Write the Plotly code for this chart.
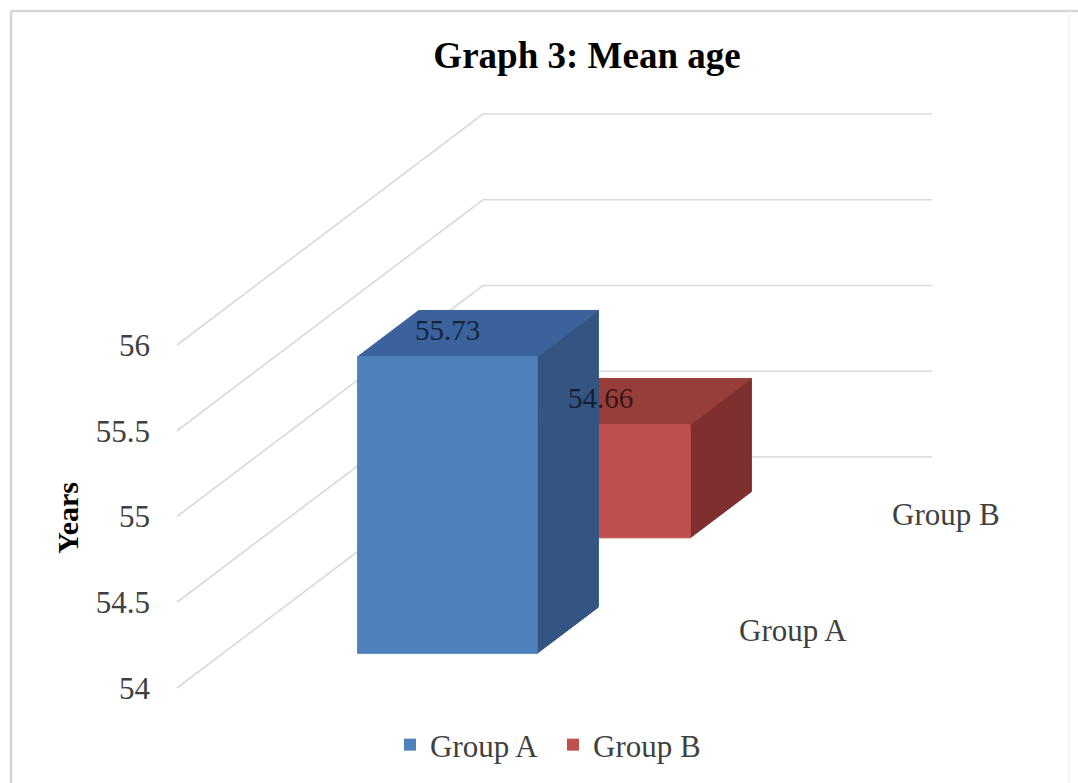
import plotly.graph_objects as go

# ---- data -------------------------------------------------------------
groups = ["Group A", "Group B"]
mean_age = [55.73, 54.66]
front_colors = ["#4f81bd", "#c0504d"]
top_colors = ["#3b629c", "#973d3a"]
side_colors = ["#345582", "#7e2f2e"]

y_ticks = [54, 54.5, 55, 55.5, 56]
y_tick_text = ["54", "54.5", "55", "55.5", "56"]
axis_min = 54

# ---- oblique 3-D geometry (screen pixels) -----------------------------
W, H = 1078, 783
ORIGIN_X = 177        # front-left corner of the floor
ORIGIN_Y = 688        # pixel row of axis_min on the front plane
PX_PER_UNIT = 171.5   # vertical pixels per year
FLOOR_W = 449         # width of the floor along the category axis
SLOT_DX = 153         # horizontal shift per series slot (depth)
SLOT_DY = 115.5       # vertical shift per series slot (depth)
BAR_FRAC = 0.4        # bar width/depth share of a slot (gap 150%)

y_lo = axis_min - (H - ORIGIN_Y) / PX_PER_UNIT
y_hi = axis_min + ORIGIN_Y / PX_PER_UNIT


def proj(u, v, d):
    """Map (category fraction, value, depth slot) to (x pixel, y value)."""
    return ORIGIN_X + u * FLOOR_W + d * SLOT_DX, v + d * SLOT_DY / PX_PER_UNIT


def poly(pts):
    xs, ys = zip(*(proj(*p) for p in pts))
    return list(xs) + [xs[0]], list(ys) + [ys[0]]


FONT = "Liberation Serif, Times New Roman, serif"
TEXT_GREY = "#404040"

fig = go.Figure()

# back-wall / side-wall gridlines
gx, gy = [], []
for t in y_ticks:
    for p in [(0, t, 0), (0, t, len(groups)), (1, t, len(groups))]:
        x, y = proj(*p)
        gx.append(x)
        gy.append(y)
    gx.append(None)
    gy.append(None)
fig.add_trace(go.Scatter(x=gx, y=gy, mode="lines", showlegend=False,
                         line=dict(color="#d9d9d9", width=1.6),
                         hoverinfo="skip"))

# bars, drawn back to front
u0, u1 = 0.5 - BAR_FRAC / 2, 0.5 + BAR_FRAC / 2
for i in reversed(range(len(groups))):
    v = mean_age[i]
    d0, d1 = i + 0.5 - BAR_FRAC / 2, i + 0.5 + BAR_FRAC / 2
    faces = [
        ([(u1, axis_min, d0), (u1, axis_min, d1), (u1, v, d1), (u1, v, d0)], side_colors[i]),
        ([(u0, v, d0), (u1, v, d0), (u1, v, d1), (u0, v, d1)], top_colors[i]),
        ([(u0, axis_min, d0), (u1, axis_min, d0), (u1, v, d0), (u0, v, d0)], front_colors[i]),
    ]
    for pts, col in faces:
        xs, ys = poly(pts)
        fig.add_trace(go.Scatter(x=xs, y=ys, mode="lines", fill="toself",
                                 fillcolor=col, line=dict(color=col, width=1),
                                 showlegend=False, hoverinfo="skip"))

# value labels on the bar tops (front-face centre, mid-depth of the top)
for i, v in enumerate(mean_age):
    x_front, _ = proj(0.5, v, i + 0.5 - BAR_FRAC / 2)
    _, y_mid = proj(0.5, v, i + 0.5)
    fig.add_annotation(x=x_front, y=y_mid, xref="x", yref="y",
                       text=f"{v:.2f}", showarrow=False, yshift=4,
                       xanchor="center", yanchor="middle",
                       font=dict(family=FONT, size=29, color="rgba(0,0,0,0.65)"))

# series (depth) axis labels
for i, g in enumerate(groups):
    x, y = proj(1, axis_min, i + 0.5)
    fig.add_annotation(x=x, y=y, xref="x", yref="y", text=g, showarrow=False,
                       xanchor="left", yanchor="middle", xshift=34,
                       font=dict(family=FONT, size=31, color=TEXT_GREY))

# legend entries
for i, g in enumerate(groups):
    fig.add_trace(go.Bar(x=[None], y=[None], name=g,
                         marker=dict(color=front_colors[i], line=dict(width=0))))

# y-axis title
fig.add_annotation(x=66.7 / W, y=1 - 518 / H, xref="paper", yref="paper",
                   xanchor="center", yanchor="middle",
                   text="<b>Years</b>", textangle=-90, showarrow=False,
                   font=dict(family=FONT, size=30, color="#000000"))

# chart frame
fig.add_shape(type="line", xref="paper", yref="paper",
              x0=11 / W, y0=-0.05, x1=11 / W, y1=1 - 11 / H,
              line=dict(color="#d6d6d6", width=2.5))
fig.add_shape(type="line", xref="paper", yref="paper",
              x0=11 / W, y0=1 - 11 / H, x1=1.05, y1=1 - 11 / H,
              line=dict(color="#d6d6d6", width=2.5))
fig.add_shape(type="line", xref="paper", yref="paper",
              x0=1069 / W, y0=-0.05, x1=1069 / W, y1=1 - 11 / H,
              line=dict(color="#f0f0f0", width=1.5))

fig.update_layout(
    width=W, height=H,
    margin=dict(l=0, r=0, t=0, b=0),
    paper_bgcolor="white", plot_bgcolor="white",
    title=dict(text="<b>Graph 3: Mean age</b>", x=587 / W, xanchor="center",
               y=1 - 55 / H, yanchor="middle", xref="container", yref="container",
               font=dict(family=FONT, size=37, color="#000000")),
    xaxis=dict(range=[0, W], visible=False, fixedrange=True),
    yaxis=dict(range=[y_lo, y_hi], anchor="free", position=ORIGIN_X / W,
               tickvals=y_ticks, ticktext=y_tick_text, ticks="",
               showgrid=False, zeroline=False, showline=False,
               ticklabelstandoff=27, fixedrange=True,
               tickfont=dict(family=FONT, size=31, color=TEXT_GREY)),
    legend=dict(orientation="h", x=553 / W, xanchor="center",
                y=1 - 745 / H, yanchor="middle", bgcolor="rgba(0,0,0,0)",
                entrywidth=118, entrywidthmode="pixels",
                font=dict(family=FONT, size=31, color=TEXT_GREY)),
    showlegend=True,
)

fig.write_html("out.html")
